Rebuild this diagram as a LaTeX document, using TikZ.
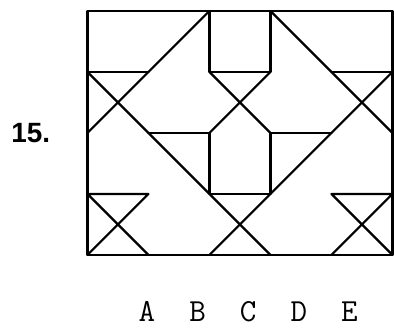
\documentclass[tikz,border=0pt]{standalone}
\usepackage{fontspec}
\setsansfont{Liberation Sans}
\usetikzlibrary{positioning}

\begin{document}
\begin{tikzpicture}[
    ln/.style={line width=1pt, line cap=round, line join=round},
    lbl/.style={font=\ttfamily\fontsize{15}{15}\selectfont, inner sep=0pt},
    num/.style={font=\sffamily\bfseries\fontsize{13}{13}\selectfont, inner sep=0pt}
  ]
  \useasboundingbox (-1.434,-1.213) rectangle (5.025,4.18);
  % frame
  \draw[ln] (0,0) rectangle (5,4);
  % long diagonals
  \draw[ln] (2,4) -- (0,2);
  \draw[ln] (3,4) -- (5,2);
  \draw[ln] (0,3) -- (3,0);
  \draw[ln] (5,3) -- (2,0);
  % middle column
  \draw[ln] (2,4) -- (2,3) -- (3,3) -- (3,4);
  \draw[ln] (1,2) -- (2,2) -- (2,1) -- (3,1) -- (3,2) -- (4,2);
  \draw[ln] (2,3) -- (3,2) (3,3) -- (2,2);
  % side bars
  \draw[ln] (0,3) -- (1,3) (4,3) -- (5,3);
  % crosses in the bottom corners
  \foreach \x in {0,4}
    \draw[ln] (\x,1) -- (\x+1,1) -- (\x,0) (\x,1) -- (\x+1,0);
  % labels
  \node[num] (item) at (-0.93,2) {15.};
  \foreach \l [count=\i] in {A,B,C,D,E}
    \node[lbl] (lbl\l) at ({0.975+0.83*(\i-1)},-0.93) {\l};
\end{tikzpicture}
\end{document}
